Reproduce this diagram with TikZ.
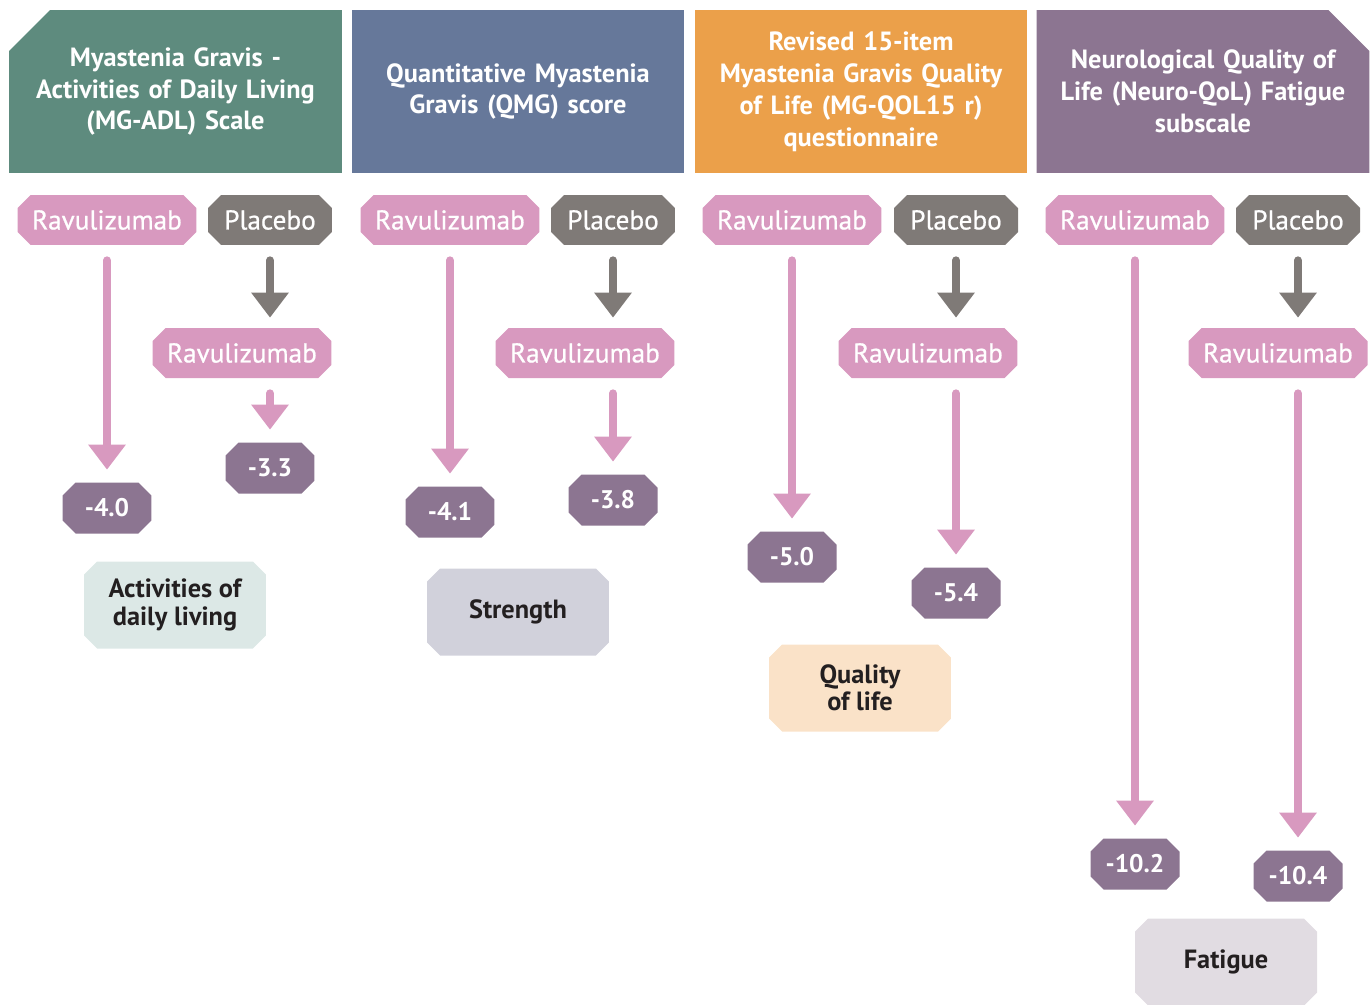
\documentclass[tikz,border=0pt]{standalone}
\usepackage{fontspec}
\setmainfont{PT Sans}
\newfontfamily\medfont{PT Sans}[FakeBold=0.7]
\usepackage{xcolor}
\usepackage{tikz}
\usetikzlibrary{arrows.meta}

\definecolor{headgreen}{HTML}{5E8B7E}
\definecolor{headblue}{HTML}{66789A}
\definecolor{headorange}{HTML}{EBA04A}
\definecolor{headpurple}{HTML}{8C7591}
\definecolor{ravupink}{HTML}{D899BF}
\definecolor{placgrey}{HTML}{7F7A77}
\definecolor{valpurple}{HTML}{8C7591}
\definecolor{catteal}{HTML}{DCE8E6}
\definecolor{catgrey}{HTML}{D1D1DB}
\definecolor{catpeach}{HTML}{FAE2C8}
\definecolor{catlilac}{HTML}{E1DCE2}
\definecolor{cattext}{HTML}{231F20}

% boxes with cut corners, filled inside a plain rectangle node
\tikzset{
	octo/.style={rectangle, inner sep=0pt, path picture={
		\fill[#1] ([xshift=0.26cm]path picture bounding box.north west) -- ([xshift=-0.26cm]path picture bounding box.north east)
		-- ([yshift=-0.26cm]path picture bounding box.north east) -- ([yshift=0.26cm]path picture bounding box.south east)
		-- ([xshift=-0.26cm]path picture bounding box.south east) -- ([xshift=0.26cm]path picture bounding box.south west)
		-- ([yshift=0.26cm]path picture bounding box.south west) -- ([yshift=-0.26cm]path picture bounding box.north west) -- cycle;}},
	cutleft/.style={path picture={
		\fill[#1] ([xshift=0.82cm]path picture bounding box.north west) -- (path picture bounding box.north east)
		-- (path picture bounding box.south east) -- (path picture bounding box.south west)
		-- ([yshift=-0.82cm]path picture bounding box.north west) -- cycle;}},
	cutright/.style={path picture={
		\fill[#1] (path picture bounding box.north west) -- ([xshift=-0.82cm]path picture bounding box.north east)
		-- ([yshift=-0.82cm]path picture bounding box.north east) -- (path picture bounding box.south east)
		-- (path picture bounding box.south west) -- cycle;}}
}
\tikzstyle{head} = [rectangle, text=white, align=center, text width=6.3cm, inner sep=0pt,
  minimum width=6.66cm, minimum height=3.26cm, font=\bfseries\fontsize{15}{18.2}\selectfont]
\tikzstyle{ravu} = [octo=ravupink, text=white, minimum width=3.58cm, minimum height=1cm,
  font=\medfont\fontsize{15.5}{18}\selectfont]
\tikzstyle{plac} = [octo=placgrey, text=white, minimum width=2.48cm, minimum height=1cm,
  font=\medfont\fontsize{15.5}{18}\selectfont]
\tikzstyle{val} = [octo=valpurple, text=white, minimum width=1.78cm, minimum height=1.02cm,
  font=\bfseries\fontsize{14.5}{16}\selectfont]
\tikzstyle{cat} = [octo=#1, text=cattext, align=center, minimum width=3.64cm, minimum height=1.74cm,
  font=\bfseries\fontsize{15}{15.5}\selectfont]
\tikzstyle{pinkarrow} = [draw=ravupink, line width=0.16cm, line cap=round, -{Triangle[width=0.72cm,length=0.5cm]},
  shorten <=0.3cm, shorten >=0.25cm]
\tikzstyle{greyarrow} = [pinkarrow, draw=placgrey, shorten >=0.2cm]

\begin{document}
\begin{tikzpicture}[x=0.02cm,y=-0.02cm]
	\useasboundingbox (0,0) rectangle (1372,1004);

	% Headers:
	% First and last one have a cut corner
	\node[head, cutleft=headgreen] (h1) at (175.5,91.5) {Myastenia Gravis -\\Activities of Daily Living\\(MG-ADL) Scale};
	\node[head, fill=headblue] (h2) at (518,91.5) {Quantitative Myastenia\\Gravis (QMG) score};
	\node[head, fill=headorange] (h3) at (861,91.5) {Revised 15-item\\Myastenia Gravis Quality\\of Life (MG-QOL15 r)\\questionnaire};
	\node[head, cutright=headpurple] (h4) at (1203,91.5) {Neurological Quality of\\Life (Neuro-QoL) Fatigue\\subscale};

	% Columns:
	% Ravulizumab and placebo arms, with the change of each score
	\foreach \i/\xr/\xp/\xq/\ya/\yb/\va/\vb in {1/107/270/242/508/468/-4.0/-3.3,
			2/450/613/585/512/500/-4.1/-3.8,
			3/792/956/928/557/593/-5.0/-5.4,
			4/1135/1298/1278/864/876/-10.2/-10.4}
	{
		\node[ravu] (r\i) at (\xr,220) {Ravulizumab};
		\node[plac] (p\i) at (\xp,220) {Placebo};
		\node[ravu] (q\i) at (\xq,353) {Ravulizumab};
		\node[val] (a\i) at (\xr,\ya) {\va};
		\node[val] (b\i) at (\xp,\yb) {\vb};

		\draw[pinkarrow] (r\i.south) -- (a\i.north);
		\draw[greyarrow] (p\i.south) -- (q\i.north -| p\i.south);
		\draw[pinkarrow] (q\i.south -| b\i.north) -- (b\i.north);
	}

	% Domains:
	\node[cat=catteal] (c1) at (175,605) {Activities of\\daily living};
	\node[cat=catgrey] (c2) at (518,612) {Strength};
	\node[cat=catpeach] (c3) at (860,688) {Quality\\of life};
	\node[cat=catlilac] (c4) at (1226,962) {Fatigue};

\end{tikzpicture}
\end{document}
